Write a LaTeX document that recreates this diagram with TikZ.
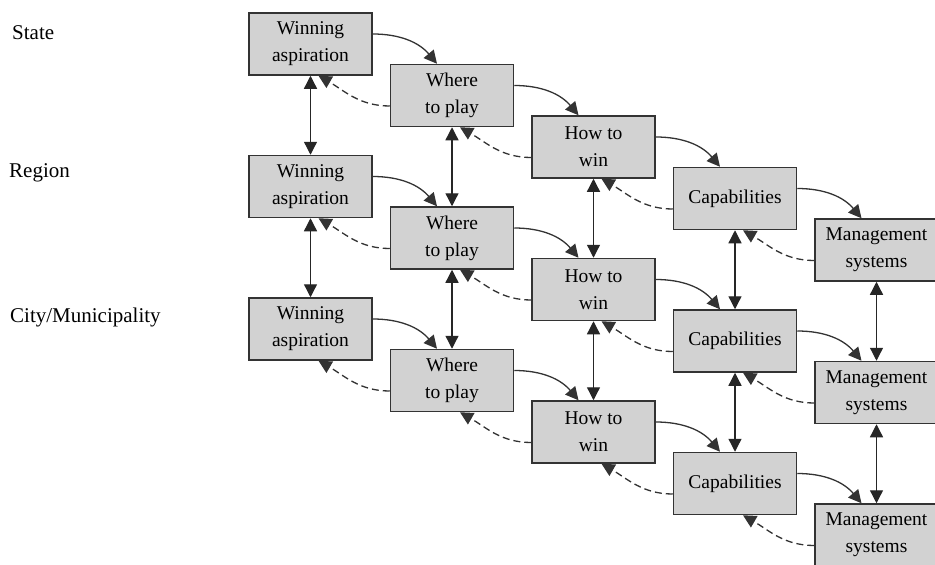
\documentclass[tikz,border=0pt]{standalone}
\usepackage{fontspec}
\setmainfont{Liberation Serif}
\usetikzlibrary{arrows.meta}
\definecolor{boxfill}{HTML}{D2D2D2}
\definecolor{linegray}{HTML}{333333}
\begin{document}
\begin{tikzpicture}[x=1pt,y=1pt,
  box/.style={draw=linegray, line width=1.5pt, fill=boxfill, minimum width=123pt, minimum height=62pt, inner sep=0pt, align=center, font=\fontsize{19.5}{27}\selectfont},
  fwd/.style={draw=linegray, line width=1.3pt, -{Triangle[length=13pt,width=13pt]}},
  back/.style={fwd, dash pattern=on 7pt off 4pt},
  vert/.style={draw=black!85, line width=1.3pt, {Triangle[length=13pt,width=13pt]}-{Triangle[length=13pt,width=13pt]}},
  lab/.style={anchor=base west, inner sep=0pt, font=\fontsize{21}{24}\selectfont}
]
\useasboundingbox (0,0) rectangle (935,-565);
\node[lab] (lstate) at (12,-39) {State};
\node[lab] (lregion) at (9,-177) {Region};
\node[lab] (lcity) at (10,-322) {City/Municipality};
\foreach \j in {0,1,2}{
  \foreach \i/\t in {0/{Winning\\aspiration},1/{Where\\to play},2/{How to\\win},3/{Capabilities},4/{Management\\systems}}{
    \node[box] (n\i\j) at ({310.5+141.5*\i},{-(44+51.5*\i+142.5*\j)}) {\t};
  }
}
\foreach \j in {0,1,2}{
  \foreach \i in {0,...,3}{
    \pgfmathtruncatemacro\k{\i+1}
    \draw[fwd] ([yshift=10pt]n\i\j.east) to[out=0,in=130] ([xshift=-15pt]n\k\j.north);
    \draw[back] ([yshift=-10.5pt]n\k\j.west) to[out=180,in=-30] ([xshift=8pt]n\i\j.south);
  }
}
\foreach \j in {0,1}{
  \pgfmathtruncatemacro\m{\j+1}
  \foreach \i in {0,...,4}{
    \draw[vert] (n\i\j.south) -- (n\i\m.north);
  }
}
\end{tikzpicture}
\end{document}
